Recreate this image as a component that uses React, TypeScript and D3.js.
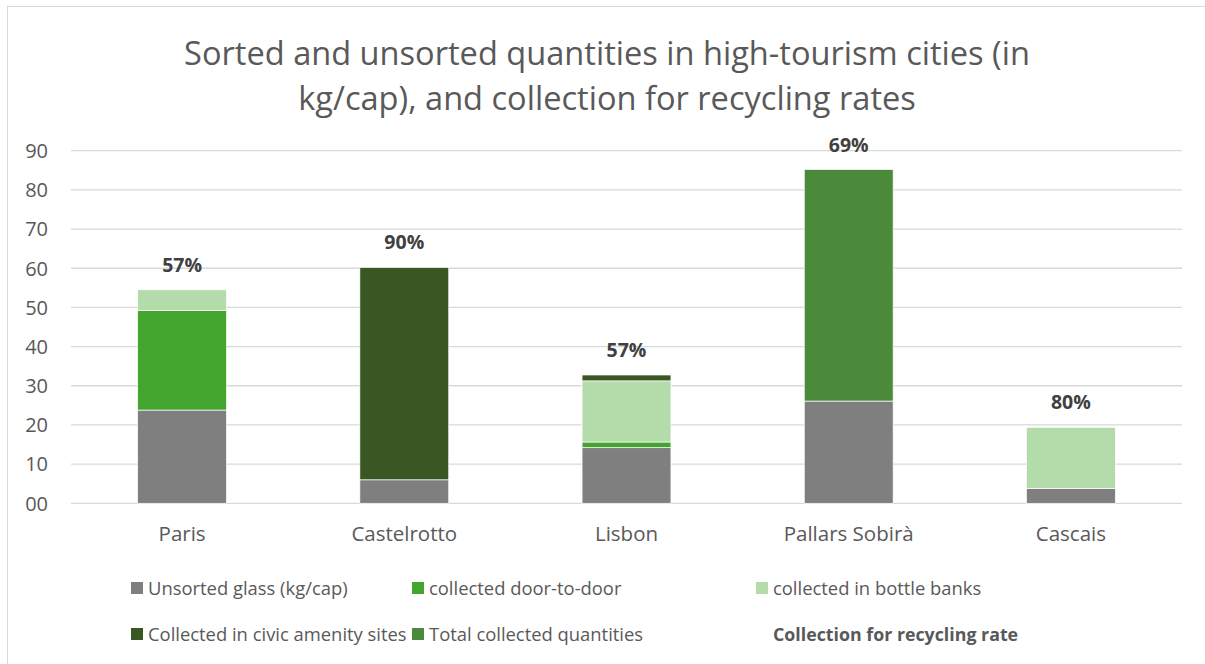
import React, { useMemo } from "react";
import * as d3 from "d3";

const cities = ["Paris", "Castelrotto", "Lisbon", "Pallars Sobirà", "Cascais"];
const unsorted = [23.8, 6, 14.2, 26.1, 3.8];
const doorToDoor = [25.4, 0, 1.45, 0, 0];
const bottleBanks = [5.3, 0, 15.6, 0, 15.6];
const civicSites = [0, 54.2, 1.5, 0, 0];
const totalCollected = [0, 0, 0, 59.1, 0];
const rates = ["57%", "90%", "57%", "69%", "80%"];
const yTicks = [0, 10, 20, 30, 40, 50, 60, 70, 80, 90];

const seriesKeys = ["unsorted", "door", "banks", "civic", "total"];
const seriesNames = [
  "Unsorted glass (kg/cap)",
  "collected door-to-door",
  "collected in bottle banks",
  "Collected in civic amenity sites",
  "Total collected quantities",
];
const colors = ["#7f7f7f", "#43a52e", "#b4dcaa", "#385723", "#4b8a3a"];

const W = 1205;
const H = 664;
const font = "'Open Sans', sans-serif";

const App = () => {
  const x = useMemo(
    () => d3.scaleBand().domain(cities).range([71, 1182]).paddingInner(0.6).paddingOuter(0.3),
    []
  );
  const y = useMemo(() => d3.scaleLinear().domain([0, 90]).range([503.3, 150.7]), []);

  const rows = cities.map((c, i) => ({
    city: c,
    unsorted: unsorted[i],
    door: doorToDoor[i],
    banks: bottleBanks[i],
    civic: civicSites[i],
    total: totalCollected[i],
  }));
  const stacked = d3.stack<any>().keys(seriesKeys)(rows);
  const fmt = d3.format("02d");

  // legend: two rows, three columns (last slot is the label-only series)
  const legendItems = [
    { name: seriesNames[0], color: colors[0], x: 131, y: 595 },
    { name: seriesNames[1], color: colors[1], x: 412, y: 595 },
    { name: seriesNames[2], color: colors[2], x: 756, y: 595 },
    { name: seriesNames[3], color: colors[3], x: 131, y: 641 },
    { name: seriesNames[4], color: colors[4], x: 412, y: 641 },
  ];

  return (
    <svg
      width={W}
      height={H}
      style={{ position: "absolute", left: 0, top: 0, background: "#fff" }}
      fontFamily={font}
    >
      <rect x={7.5} y={6.5} width={W + 10} height={H + 10} fill="#fff" stroke="#d9d9d9" />
      <text x={607} y={65} textAnchor="middle" fontSize={32.6} fill="#595959">
        Sorted and unsorted quantities in high-tourism cities (in
      </text>
      <text x={607} y={110} textAnchor="middle" fontSize={32.6} fill="#595959">
        kg/cap), and collection for recycling rates
      </text>

      {yTicks.map((t) => (
        <g key={t}>
          <line x1={71} x2={1182} y1={y(t)} y2={y(t)} stroke="#d9d9d9" strokeWidth={1.3} />
          <text x={48} y={y(t) + 7.3} textAnchor="end" fontSize={20} fill="#595959">
            {fmt(t)}
          </text>
        </g>
      ))}

      {stacked.map((s, si) => (
        <g key={s.key} fill={colors[si]}>
          {s.map((d, i) =>
            d[1] - d[0] > 0 ? (
              <rect
                key={i}
                x={x(cities[i])!}
                width={x.bandwidth()}
                y={y(d[1])}
                height={y(d[0]) - y(d[1])}
                stroke="#fff"
                strokeWidth={0.7}
              />
            ) : null
          )}
        </g>
      ))}

      {cities.map((c, i) => {
        const top = stacked[stacked.length - 1][i][1];
        return (
          <g key={c}>
            <text
              x={x(c)! + x.bandwidth() / 2}
              y={y(top) - 18}
              textAnchor="middle"
              fontSize={19.5}
              fontWeight="bold"
              fill="#404040"
            >
              {rates[i]}
            </text>
            <text x={x(c)! + x.bandwidth() / 2} y={541} textAnchor="middle" fontSize={20.5} fill="#595959">
              {c}
            </text>
          </g>
        );
      })}

      {legendItems.map((l) => (
        <g key={l.name}>
          <rect x={l.x} y={l.y - 13} width={12} height={12} fill={l.color} />
          <text x={l.x + 17} y={l.y} fontSize={18.4} fill="#595959">
            {l.name}
          </text>
        </g>
      ))}
      <text x={773} y={641} fontSize={17.8} fontWeight="bold" fill="#595959">
        Collection for recycling rate
      </text>
    </svg>
  );
};

export default App;
